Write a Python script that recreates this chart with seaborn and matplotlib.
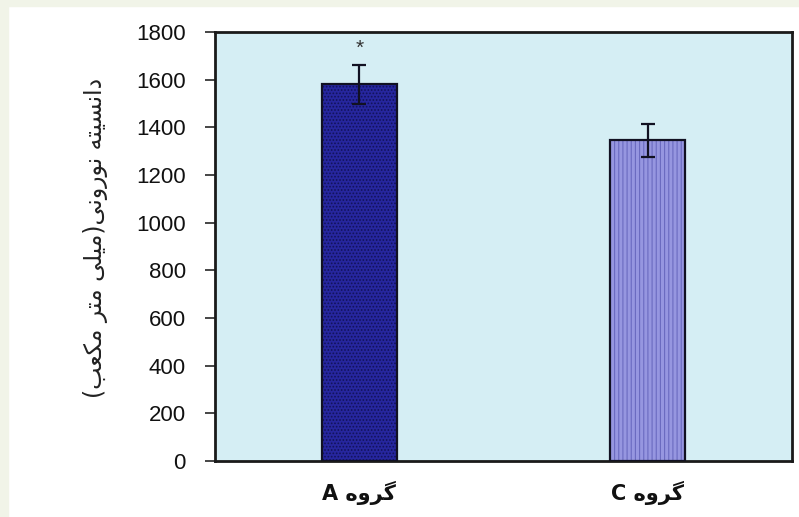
import numpy as np
import pandas as pd
import matplotlib
matplotlib.use('Agg')
import matplotlib.pyplot as plt
from matplotlib.patches import Rectangle
import seaborn as sns

# Persian text is written in visual order with presentation forms
# (matplotlib has no RTL shaping).
GROUP_WORD = '\uFEE9\uFEED\uFEAE\uFB94'           # گروه
groups = ['A ' + GROUP_WORD, 'C ' + GROUP_WORD]
means = [1580, 1345]
errors = [80, 68]
bar_colors = ['#26269e', '#9696e0']
hatch_colors = ['#12125a', '#6a6ac0']
hatches = ['.....', '||||']
stars = ['*', '']
yticks = [0, 200, 400, 600, 800, 1000, 1200, 1400, 1600, 1800]

ylabel = ('(' + '\uFE90\uFECC\uFB91\uFEE3' + ' ' + '\uFEAE\uFE98\uFEE3' + ' '
          + '\uFBFD\uFEE0\uFBFF\uFEE3' + ')' + '\uFBFD\uFEE7\uFEED\uFEAD\uFEEE\uFEE7'
          + ' ' + '\uFEEA\uFE98\uFBFF\uFEB4\uFEE7\uFE8D\uFEA9')

sns.set_style('ticks')
plt.rcParams['font.family'] = ['Liberation Sans', 'DejaVu Sans']
plt.rcParams['hatch.linewidth'] = 0.8

fig = plt.figure(figsize=(7.99, 5.17), dpi=100, facecolor='white')
ax = fig.add_axes([215 / 799, 1 - 461 / 517, 577 / 799, 429 / 517])
ax.set_facecolor('#d5eef4')

df = pd.DataFrame({'group': groups, 'mean': means})
sns.barplot(data=df, x='group', y='mean', hue='group', palette=bar_colors,
            saturation=1, width=0.26, legend=False, ax=ax, errorbar=None)

for p, hc, h in zip(ax.patches, hatch_colors, hatches):
    p.set_hatch(h)
    p.set_edgecolor(hc)
    p.set_linewidth(0)
    ax.add_patch(Rectangle(p.get_xy(), p.get_width(), p.get_height(),
                           fill=False, edgecolor='#111122', linewidth=1.6, zorder=3))

xs = np.arange(len(groups))
ax.errorbar(xs, means, yerr=errors, fmt='none', ecolor='#111122',
            elinewidth=1.6, capsize=5, capthick=1.6, zorder=4)
for x, m, e, s in zip(xs, means, errors, stars):
    if s:
        ax.text(x, m + e + 30, s, ha='center', va='bottom', fontsize=15, color='#333333')

ax.set_xlim(-0.5, 1.5)
ax.set_ylim(0, 1800)
ax.set_yticks(yticks)
ax.tick_params(axis='y', labelsize=16, labelcolor='#111111', length=7, width=1.2,
               direction='out', pad=14)
ax.tick_params(axis='x', length=0, pad=14, labelcolor='#111111')
for lbl in ax.get_xticklabels():
    lbl.set_fontsize(15)
    lbl.set_fontweight('bold')
    lbl.set_family(['DejaVu Sans'])
for sp in ax.spines.values():
    sp.set_visible(True)
    sp.set_linewidth(2)
    sp.set_color('#1a1a1a')
ax.set_xlabel('')
ax.set_ylabel(ylabel, family=['DejaVu Sans'], fontsize=17, color='#222222')
ax.yaxis.set_label_coords((108 - 215) / 577, 0.52)

# faint page edge seen in the screenshot
fig.patches.append(Rectangle((0, 0), 8 / 799, 1, transform=fig.transFigure,
                             color='#f1f4e8', zorder=-1))
fig.patches.append(Rectangle((0, 1 - 6 / 517), 1, 6 / 517, transform=fig.transFigure,
                             color='#f1f4e8', zorder=-1))

fig.savefig('out.png', dpi=100, facecolor=fig.get_facecolor())
